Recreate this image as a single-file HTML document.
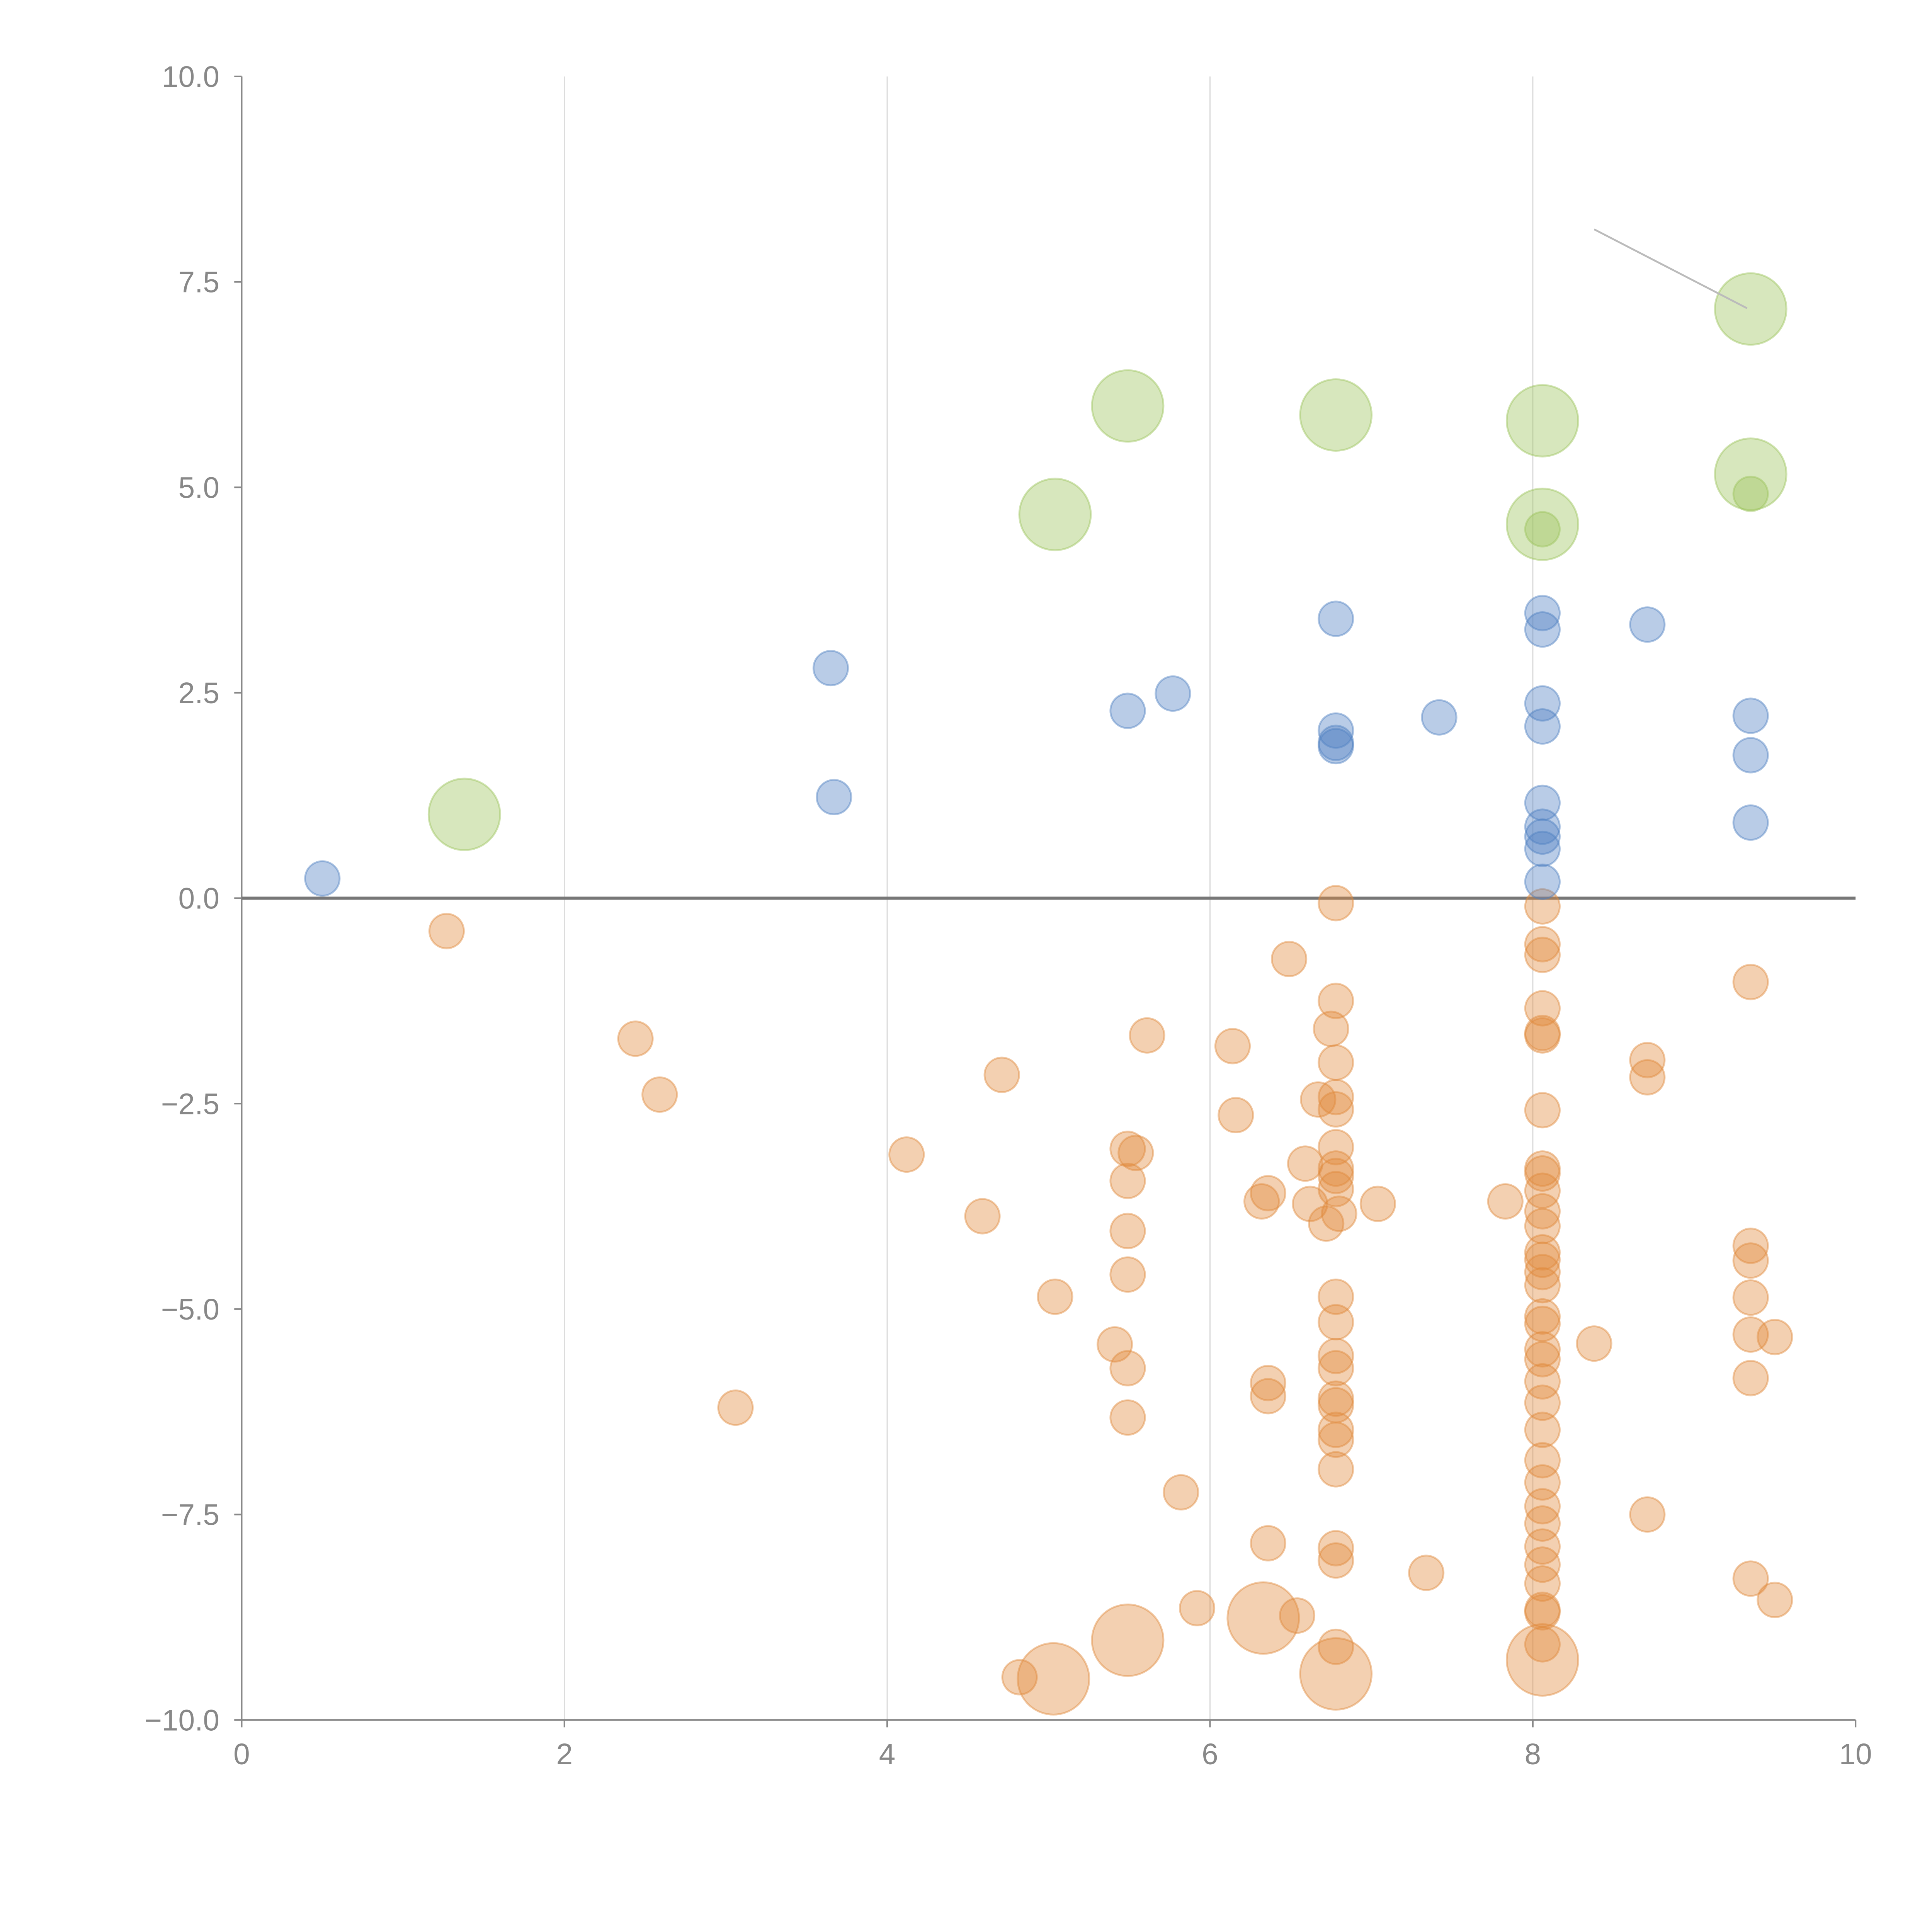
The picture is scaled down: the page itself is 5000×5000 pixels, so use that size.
<!DOCTYPE html>
<html><head><meta charset="utf-8">
<style>
html,body{margin:0;padding:0;background:#fff;}
svg{display:block;font-family:"Liberation Sans",sans-serif;}
</style></head>
<body>
<svg id="chart" width="5000" height="5000" viewBox="0 0 1567 1567" xmlns="http://www.w3.org/2000/svg">
<g id="grid"></g>
<g id="axes"></g>
<g id="marks"></g>
</svg>
<script>
const xTicks=[0,2,4,6,8,10];
const xTickLabels=["0","2","4","6","8","10"];
const yTicks=[10,7.5,5,2.5,0,-2.5,-5,-7.5,-10];
const yTickLabels=["10.0","7.5","5.0","2.5","0.0","\u22122.5","\u22125.0","\u22127.5","\u221210.0"];

const blueX=[0.50,3.65,3.67,5.49,5.77,6.78,6.78,6.78,6.78,7.42,8.06,8.06,8.06,8.06,8.06,8.06,8.06,8.06,8.06,8.71,9.35,9.35,9.35];
const blueY=[0.24,2.8,1.23,2.28,2.49,3.4,2.04,1.89,1.85,2.2,3.47,3.27,2.37,2.09,1.16,0.87,0.75,0.6,0.2,3.33,2.22,1.74,0.92];

const greenBigX=[1.38,5.04,5.49,6.78,8.06,8.06,9.35,9.35];
const greenBigY=[1.02,4.67,5.99,5.88,5.81,4.55,7.17,5.16];
const greenSmallX=[8.06,9.35];
const greenSmallY=[4.49,4.92];

const orangeX=[1.27,2.44,2.59,3.06,4.12,4.59,4.71,5.04,5.41,5.49,5.54,5.49,5.49,5.49,5.49,5.49,5.61,5.82,5.92,6.14,6.16,6.32,6.36,6.36,6.36,6.36,6.54,6.49,6.59,6.62,6.67,6.72,6.75,
6.78,6.78,6.78,6.78,6.78,6.78,6.78,6.78,6.78,6.80,6.78,6.78,6.78,6.78,6.78,6.78,6.78,6.78,6.78,6.78,6.78,6.78,
7.04,7.34,7.83,
8.06,8.06,8.06,8.06,8.06,8.06,8.06,8.06,8.06,8.06,8.06,8.06,8.06,8.06,8.06,8.06,8.06,8.06,8.06,8.06,8.06,8.06,8.06,8.06,8.06,8.06,8.06,8.06,8.06,8.06,8.06,8.06,8.06,
8.38,8.71,8.71,8.71,9.35,9.35,9.35,9.35,9.35,9.35,9.35,9.50,9.50,4.82];
const orangeY=[-0.4,-1.71,-2.39,-6.2,-3.12,-3.87,-2.15,-4.85,-5.43,-3.05,-3.1,-3.44,-4.05,-4.58,-5.72,-6.32,-1.67,-7.23,-8.64,-1.8,-2.64,-3.69,-3.59,-5.9,-6.06,-7.85,-8.73,-0.74,-3.23,-3.72,-2.45,-3.96,-1.59,
-0.06,-1.25,-2.0,-2.42,-2.57,-3.03,-3.29,-3.38,-3.54,-3.84,-4.85,-5.16,-5.57,-5.72,-6.09,-6.17,-6.47,-6.59,-6.95,-7.91,-8.06,-9.11,
-3.72,-8.21,-3.69,
-0.1,-0.56,-0.69,-1.34,-1.64,-1.67,-2.58,-3.29,-3.35,-3.56,-3.81,-3.99,-4.31,-4.4,-4.55,-4.71,-5.09,-5.18,-5.49,-5.61,-5.88,-6.14,-6.47,-6.84,-7.11,-7.4,-7.61,-7.89,-8.11,-8.34,-8.66,-8.69,-9.08,
-5.42,-1.97,-2.18,-7.5,-1.02,-4.23,-4.41,-4.86,-5.31,-5.84,-8.28,-5.34,-8.54,-9.48];
const orangeBigX=[5.03,5.49,6.33,6.78,8.06];
const orangeBigY=[-9.5,-9.03,-8.76,-9.44,-9.27];

const X0=196,X1=1505,Y0=1395,Y1=62;
function sx(v){return X0+(v-0)/(10-0)*(X1-X0);}
function sy(v){return Y0-(v+10)/20*(Y0-Y1);}
const NS="http://www.w3.org/2000/svg";
function mk(tag,attrs,parent){const e=document.createElementNS(NS,tag);for(const k in attrs)e.setAttribute(k,attrs[k]);parent.appendChild(e);return e;}
const grid=document.getElementById('grid'),axes=document.getElementById('axes'),marks=document.getElementById('marks');

xTicks.forEach((t,i)=>{
  if(t>0&&t<10){const g=mk('line',{x1:sx(t),x2:sx(t),y1:Y1,y2:Y0,stroke:'#dcdcdc','stroke-width':1},grid);
  
  }
  const tk=mk('line',{x1:sx(t),x2:sx(t),y1:Y0,y2:Y0+6,stroke:'#888','stroke-width':1.3},axes);
  
  
  const tx=mk('text',{x:sx(t),y:Y0+36,'text-anchor':'middle','font-size':24,fill:'#888'},axes);
  tx.textContent=xTickLabels[i];
  
  
});
yTicks.forEach((t,i)=>{
  const tk=mk('line',{x1:X0-6,x2:X0,y1:sy(t),y2:sy(t),stroke:'#888','stroke-width':1.3},axes);
  
  
  const tx=mk('text',{x:X0-18,y:sy(t)+8.5,'text-anchor':'end','font-size':24,fill:'#888'},axes);
  tx.textContent=yTickLabels[i];
  
  
});
let a=mk('line',{x1:X0,x2:X0,y1:Y1,y2:Y0,stroke:'#888','stroke-width':1.3},axes);


a=mk('line',{x1:X0,x2:X1,y1:Y0,y2:Y0,stroke:'#888','stroke-width':1.3},axes);


a=mk('line',{x1:X0,x2:X1,y1:sy(0),y2:sy(0),stroke:'#777','stroke-width':2.5},axes);



function drawSeries(xs,ys,r,fill,stroke,name){
  xs.forEach((x,i)=>{
    const c=mk('circle',{cx:sx(x),cy:sy(ys[i]),r:r,fill:fill,'fill-opacity':0.4,stroke:stroke,'stroke-opacity':0.45,'stroke-width':1.5},marks);
    
    
  });
}
drawSeries(orangeX,orangeY,14,'#e08a3c','#e08a3c','orange-point');
drawSeries(orangeBigX,orangeBigY,29,'#e08a3c','#e08a3c','orange-large-point');
drawSeries(blueX,blueY,14,'#4f80c2','#4f80c2','blue-point');
drawSeries(greenBigX,greenBigY,29,'#9cc35a','#9cc35a','green-large-point');
drawSeries(greenSmallX,greenSmallY,14,'#9cc35a','#9cc35a','green-small-point');

const ann=mk('line',{x1:1293,y1:186,x2:1417,y2:250,stroke:'#bbb','stroke-width':1.5},marks);


</script>
</body></html>
